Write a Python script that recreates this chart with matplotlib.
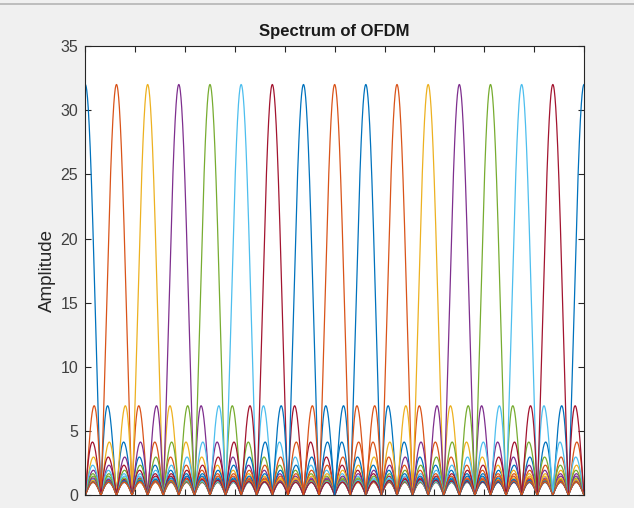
import numpy as np
import matplotlib
matplotlib.use("Agg")
import matplotlib.pyplot as plt
from matplotlib.lines import Line2D

# OFDM symbol: 32 samples, 16 subcarriers spaced 2 FFT bins apart
n_samples = 32
bin_step = 2
# subcarrier index (peak position 0..15) for each plotted line, in plotting order
subcarrier_order = [0, 1, 2, 3, 4, 5, 6, 9, 10, 11, 12, 13, 14, 15, 7, 8]
n_fft = 2048

colors = ["#0072BD", "#D95319", "#EDB120", "#7E2F8E",
          "#77AC30", "#4DBEEE", "#A2142F"]

plt.rcParams["font.family"] = ["Liberation Sans", "DejaVu Sans"]

fig = plt.figure(figsize=(6.34, 5.08), dpi=100, facecolor="#f0f0f0")
fig.add_artist(Line2D([0, 1], [1 - 3.5 / 508, 1 - 3.5 / 508],
                      transform=fig.transFigure, color="#b4b4b4", lw=1.2))
ax = fig.add_axes([85.3 / 634, 12.7 / 508, 498.7 / 634, 449.3 / 508])

n = np.arange(n_samples)
freq = np.arange(n_fft + 1) / n_fft
for i, k in enumerate(subcarrier_order):
    x = np.exp(2j * np.pi * bin_step * k * n / n_samples)
    spec = np.abs(np.fft.fft(x, n_fft))
    spec = np.append(spec, spec[0])  # close the period at f = 1
    ax.plot(freq, spec, color=colors[i % len(colors)], lw=0.9)

ax.set_xlim(0, 1)
ax.set_ylim(0, 35)
ax.set_xticks(np.arange(0, 1.01, 0.1))
ax.set_xticklabels([])
ax.set_yticks(np.arange(0, 36, 5))
ax.tick_params(direction="in", length=4, width=0.8, colors="#262626",
               labelsize=11.5, top=True, right=True, pad=5)
ax.tick_params(axis="y", labelcolor="#404040")
for s in ax.spines.values():
    s.set_color("#262626")
    s.set_linewidth(0.8)

ax.set_title("Spectrum of OFDM", fontsize=12, fontweight="bold",
             color="#1a1a1a", pad=7)
ax.set_ylabel("Amplitude", fontsize=13.5, color="#262626", labelpad=3)

fig.savefig("out.png", dpi=100, facecolor=fig.get_facecolor())
